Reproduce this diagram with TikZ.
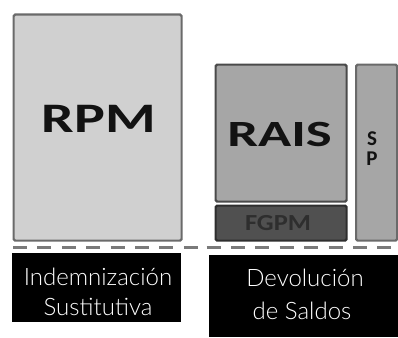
\documentclass[tikz,border=0pt]{standalone}
\usepackage{fontspec}
\setmainfont{Carlito}
\newfontfamily\lightf{Lato}[UprightFont=* Light]
\definecolor{rpmfill}{HTML}{D0D0D0}
\definecolor{rpmdraw}{HTML}{6A6A6A}
\definecolor{raisfill}{HTML}{A6A6A6}
\definecolor{raisdraw}{HTML}{4A4A4A}
\definecolor{fgpmfill}{HTML}{505050}
\definecolor{fgpmdraw}{HTML}{2E2E2E}
\definecolor{dashcol}{HTML}{7A7A7A}
\definecolor{txtdark}{HTML}{121212}
\begin{document}
\begin{tikzpicture}[x=1pt,y=-1pt,
  box/.style={draw, line width=2.2pt, rounded corners=1.5pt, anchor=north west, inner sep=0pt},
  blackbox/.style={fill=black, draw=none, anchor=north west, inner sep=0pt},
  bigtxt/.style={text=txtdark, font=\bfseries\fontsize{#1}{#1}\selectfont, inner sep=0pt, text depth=0pt},
  lighttxt/.style={text=white, font=\lightf\fontsize{24}{24}\selectfont, inner sep=0pt},
  dashline/.style={draw=dashcol, line width=3.5pt, dash pattern=on 14pt off 10.4pt}]
\useasboundingbox (0,0) rectangle (398,337);
% boxes
\node[box, draw=rpmdraw, fill=rpmfill, minimum width=168pt, minimum height=226pt] (rpm) at (12.5,13.5) {};
\node[box, draw=raisdraw, fill=raisfill, minimum width=131pt, minimum height=137pt] (rais) at (214.5,63.5) {};
\node[box, draw=fgpmdraw, fill=fgpmfill, minimum width=131pt, minimum height=35pt] (fgpm) at (214.5,204.5) {};
\node[box, draw=rpmdraw, fill=raisfill, minimum width=41pt, minimum height=176pt] (sp) at (355,63.5) {};
% black boxes
\node[blackbox, minimum width=169pt, minimum height=69pt] (indem) at (12,253) {};
\node[blackbox, minimum width=189pt, minimum height=82pt] (devol) at (209,255) {};
% dashed lines
\coordinate (l1) at (13,247.5);
\coordinate (l2) at (198,247.5);
\coordinate (r1) at (206.5,247.5);
\coordinate (r2) at (398,247.5);
\draw[dashline] (l1) -- (l2);
\draw[dashline] (r1) -- (r2);
% labels
\node[bigtxt=42] (trpm) at (99,119) {\scalebox{1.38}[1]{RPM}};
\node[bigtxt=37] (trais) at (279.5,134) {\scalebox{1.48}[1]{RAIS}};
\node[bigtxt=23, text=fgpmdraw] (tfgpm) at (278,222.5) {\scalebox{1.15}[1]{FGPM}};
\node[bigtxt=21, anchor=base] (ts) at (372,145) {S};
\node[bigtxt=21, anchor=base] (tp) at (372,165) {P};
\node[lighttxt] (ti1) at (98,277) {Indemnización};
\node[lighttxt] (ti2) at (98,307) {Sustitutiva};
\node[lighttxt] (td1) at (305,278) {Devolución};
\node[lighttxt] (td2) at (302,311) {de Saldos};
\end{tikzpicture}
\end{document}
